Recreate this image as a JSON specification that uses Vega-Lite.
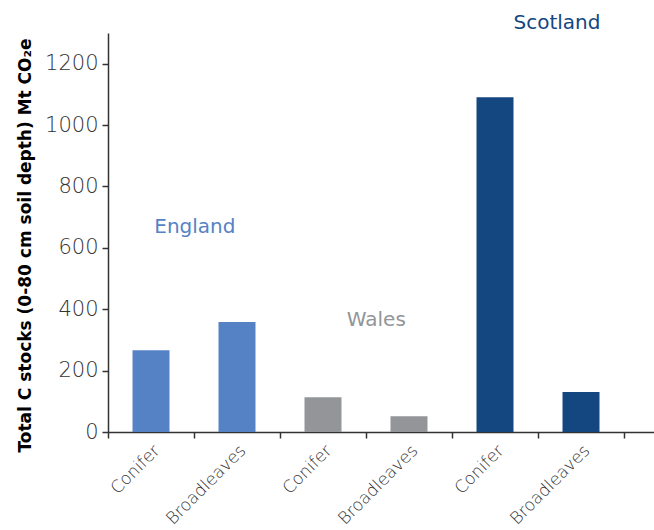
{
  "$schema": "https://vega.github.io/schema/vega-lite/v6.json",
  "autosize": {"type": "none"},
  "padding": {"left": 108, "top": 33, "right": 0, "bottom": 98},
  "width": 546,
  "height": 399,
  "background": "white",
  "config": {"view": {"stroke": null}, "font": "DejaVu Sans"},
  "datasets": {
    "bars": [
      {"key": "England|Conifer", "country": "England", "type": "Conifer", "stock": 266},
      {"key": "England|Broadleaves", "country": "England", "type": "Broadleaves", "stock": 358},
      {"key": "Wales|Conifer", "country": "Wales", "type": "Conifer", "stock": 113},
      {"key": "Wales|Broadleaves", "country": "Wales", "type": "Broadleaves", "stock": 51},
      {"key": "Scotland|Conifer", "country": "Scotland", "type": "Conifer", "stock": 1091},
      {"key": "Scotland|Broadleaves", "country": "Scotland", "type": "Broadleaves", "stock": 130}
    ],
    "england": [{"key": "England|Broadleaves", "country": "England", "pos": 667}],
    "wales": [{"key": "Wales|Broadleaves", "country": "Wales", "pos": 364}],
    "scotland": [{"key": "Scotland|Broadleaves", "country": "Scotland", "pos": 1333}]
  },
  "layer": [
    {
      "data": {"name": "bars"},
      "mark": {"type": "bar", "width": {"band": 0.43}},
      "encoding": {
        "x": {
          "field": "key", "type": "nominal", "sort": null,
          "scale": {"paddingInner": 0, "paddingOuter": 0.1744, "align": 0},
          "axis": {
            "title": null,
            "tickBand": "extent",
            "labelExpr": "split(datum.label, '|')[1]",
            "labelAngle": -45,
            "labelFontSize": 17,
            "labelFont": "DejaVu Sans ExtraLight, DejaVu Sans",
            "labelFontWeight": 200,
            "labelColor": "#333333",
            "labelPadding": 4,
            "domainColor": "#333333",
            "domainWidth": 1.5,
            "tickColor": "#333333",
            "tickSize": 6,
            "tickWidth": 1.5,
            "grid": false
          }
        },
        "y": {
          "field": "stock", "type": "quantitative",
          "scale": {"domain": [0, 1300], "nice": false},
          "axis": {
            "title": "Total C stocks (0-80 cm soil depth) Mt CO₂e",
            "titleFontSize": 17,
            "titleFont": "DejaVu Sans",
            "titleFontWeight": "bold",
            "titleColor": "#000000",
            "titlePadding": 10,
            "titleY": 212,
            "values": [0, 200, 400, 600, 800, 1000, 1200],
            "format": "d",
            "labelFontSize": 21,
            "labelFont": "DejaVu Sans ExtraLight, DejaVu Sans",
            "labelFontWeight": 200,
            "labelColor": "#333333",
            "labelPadding": 4,
            "domainColor": "#333333",
            "domainWidth": 1.5,
            "tickColor": "#333333",
            "tickSize": 6,
            "tickWidth": 1.5,
            "grid": false
          }
        },
        "color": {
          "field": "country", "type": "nominal",
          "scale": {"domain": ["England", "Wales", "Scotland"], "range": ["#5582c5", "#939598", "#14467f"]},
          "legend": null
        }
      }
    },
    {
      "data": {"name": "england"},
      "mark": {"type": "text", "fontSize": 20, "font": "DejaVu Sans", "align": "center", "baseline": "middle"},
      "encoding": {
        "x": {"field": "key", "type": "nominal", "sort": null, "bandPosition": 0.01},
        "y": {"field": "pos", "type": "quantitative"},
        "text": {"field": "country"},
        "color": {"field": "country", "type": "nominal"}
      }
    },
    {
      "data": {"name": "wales"},
      "mark": {"type": "text", "fontSize": 20, "font": "DejaVu Sans", "align": "center", "baseline": "middle"},
      "encoding": {
        "x": {"field": "key", "type": "nominal", "sort": null, "bandPosition": 0.12},
        "y": {"field": "pos", "type": "quantitative"},
        "text": {"field": "country"},
        "color": {"field": "country", "type": "nominal"}
      }
    },
    {
      "data": {"name": "scotland"},
      "mark": {"type": "text", "fontSize": 20, "font": "DejaVu Sans", "align": "center", "baseline": "middle"},
      "encoding": {
        "x": {"field": "key", "type": "nominal", "sort": null, "bandPosition": 0.22},
        "y": {"field": "pos", "type": "quantitative"},
        "text": {"field": "country"},
        "color": {"field": "country", "type": "nominal"}
      }
    }
  ]
}
